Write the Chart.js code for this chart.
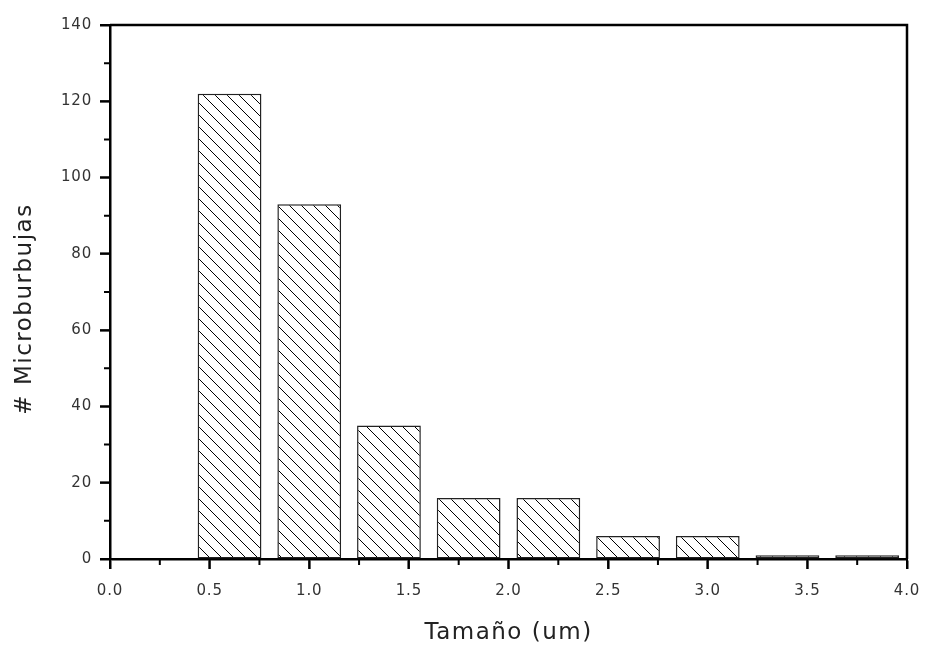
<!DOCTYPE html>
<html lang="es">
<head>
    <meta charset="UTF-8">
    <title>Microburbujas</title>
    <script src="https://cdnjs.cloudflare.com/ajax/libs/Chart.js/4.4.1/chart.umd.min.js"></script>
    <style>
        * { margin: 0; padding: 0; box-sizing: border-box; }
        body { background: #fff; }
        .chart-container { width: 929px; height: 654px; position: relative; }
    </style>
</head>
<body>
    <div class="chart-container">
        <canvas id="histChart"></canvas>
    </div>

    <script>
        // bin centres (um) and counts
        const sizes = [0.6, 1.0, 1.4, 1.8, 2.2, 2.6, 3.0, 3.4, 3.8];
        const counts = [122, 93, 35, 16, 16, 6, 6, 1, 1];
        const xTicks = [0, 0.5, 1.0, 1.5, 2.0, 2.5, 3.0, 3.5, 4.0];
        const yTicks = [0, 20, 40, 60, 80, 100, 120, 140];
        const xTitle = 'Tamaño (um)';
        const yTitle = '# Microburbujas';

        const FONT = '"DejaVu Sans", sans-serif';

        // diagonal hatch "\\\"
        function makeHatch() {
            const s = 12;
            const c = document.createElement('canvas');
            c.width = s; c.height = s;
            const g = c.getContext('2d');
            g.fillStyle = '#fff';
            g.fillRect(0, 0, s, s);
            g.strokeStyle = '#000';
            g.lineWidth = 1;
            g.beginPath();
            g.moveTo(-2, -2); g.lineTo(s + 2, s + 2);
            g.moveTo(-2, s - 2); g.lineTo(2, s + 2);
            g.moveTo(s - 2, -2); g.lineTo(s + 2, 2);
            g.stroke();
            return g.createPattern(c, 'repeat');
        }

        // wider letters, closer to the original typeface
        const spacingPlugin = {
            id: 'spacing',
            beforeDraw(chart) { chart.ctx.letterSpacing = '0.8px'; }
        };

        // box frame, ticks and axis titles
        const framePlugin = {
            id: 'frame',
            afterDraw(chart) {
                const ctx = chart.ctx;
                const a = chart.chartArea;
                const x = chart.scales.x, y = chart.scales.y;
                ctx.save();
                ctx.strokeStyle = '#000';
                ctx.lineWidth = 2.5;
                ctx.beginPath();
                ctx.moveTo(a.left, a.top);
                ctx.lineTo(a.right, a.top);
                ctx.lineTo(a.right, a.bottom);
                ctx.stroke();

                ctx.lineWidth = 2;
                ctx.beginPath();
                xTicks.forEach((v, i) => {
                    const px = x.getPixelForValue(v);
                    ctx.moveTo(px, a.bottom);
                    ctx.lineTo(px, a.bottom + 10);
                    if (i < xTicks.length - 1) {
                        const pm = x.getPixelForValue((v + xTicks[i + 1]) / 2);
                        ctx.moveTo(pm, a.bottom);
                        ctx.lineTo(pm, a.bottom + 6);
                    }
                });
                yTicks.forEach((v, i) => {
                    const py = y.getPixelForValue(v);
                    ctx.moveTo(a.left, py);
                    ctx.lineTo(a.left - 10, py);
                    if (i < yTicks.length - 1) {
                        const pm = y.getPixelForValue((v + yTicks[i + 1]) / 2);
                        ctx.moveTo(a.left, pm);
                        ctx.lineTo(a.left - 6, pm);
                    }
                });
                ctx.stroke();

                ctx.fillStyle = '#222';
                ctx.font = '23px ' + FONT;
                ctx.letterSpacing = '1.5px';
                ctx.textAlign = 'center';
                ctx.textBaseline = 'middle';
                ctx.fillText(xTitle, (a.left + a.right) / 2, 633);
                ctx.translate(25, 309);
                ctx.rotate(-Math.PI / 2);
                ctx.fillText(yTitle, 0, 0);
                ctx.restore();
            }
        };

        new Chart(document.getElementById('histChart'), {
            type: 'bar',
            data: {
                datasets: [{
                    data: sizes.map((s, i) => ({ x: s, y: counts[i] })),
                    backgroundColor: makeHatch(),
                    borderColor: '#222',
                    borderWidth: 1.5,
                    borderSkipped: false,
                    barPercentage: 0.8,
                    categoryPercentage: 1.0
                }]
            },
            options: {
                responsive: true,
                maintainAspectRatio: false,
                animation: false,
                layout: { padding: { left: 0, right: 22, top: 25, bottom: 0 } },
                plugins: {
                    legend: { display: false },
                    tooltip: { enabled: false }
                },
                scales: {
                    x: {
                        type: 'linear',
                        min: 0,
                        max: 4,
                        offset: false,
                        afterBuildTicks: s => { s.ticks = xTicks.map(v => ({ value: v })); },
                        afterFit: s => { s.height = 95; s.paddingLeft = 0; s.paddingRight = 0; },
                        ticks: {
                            callback: v => v.toFixed(1),
                            color: '#333',
                            font: { family: FONT, size: 15 },
                            padding: 13,
                            maxRotation: 0
                        },
                        grid: {
                            offset: false,
                            drawOnChartArea: false,
                            drawTicks: true,
                            tickLength: 10,
                            tickWidth: 2,
                            tickColor: '#000'
                        },
                        border: { display: true, color: '#000', width: 2.5 }
                    },
                    y: {
                        min: 0,
                        max: 140,
                        afterBuildTicks: s => { s.ticks = yTicks.map(v => ({ value: v })); },
                        afterFit: s => { s.width = 110; s.paddingTop = 0; s.paddingBottom = 0; },
                        ticks: {
                            color: '#333',
                            font: { family: FONT, size: 15 },
                            padding: 8
                        },
                        grid: {
                            drawOnChartArea: false,
                            drawTicks: true,
                            tickLength: 10,
                            tickWidth: 2,
                            tickColor: '#000'
                        },
                        border: { display: true, color: '#000', width: 2.5 }
                    }
                }
            },
            plugins: [spacingPlugin, framePlugin]
        });
    </script>
</body>
</html>
